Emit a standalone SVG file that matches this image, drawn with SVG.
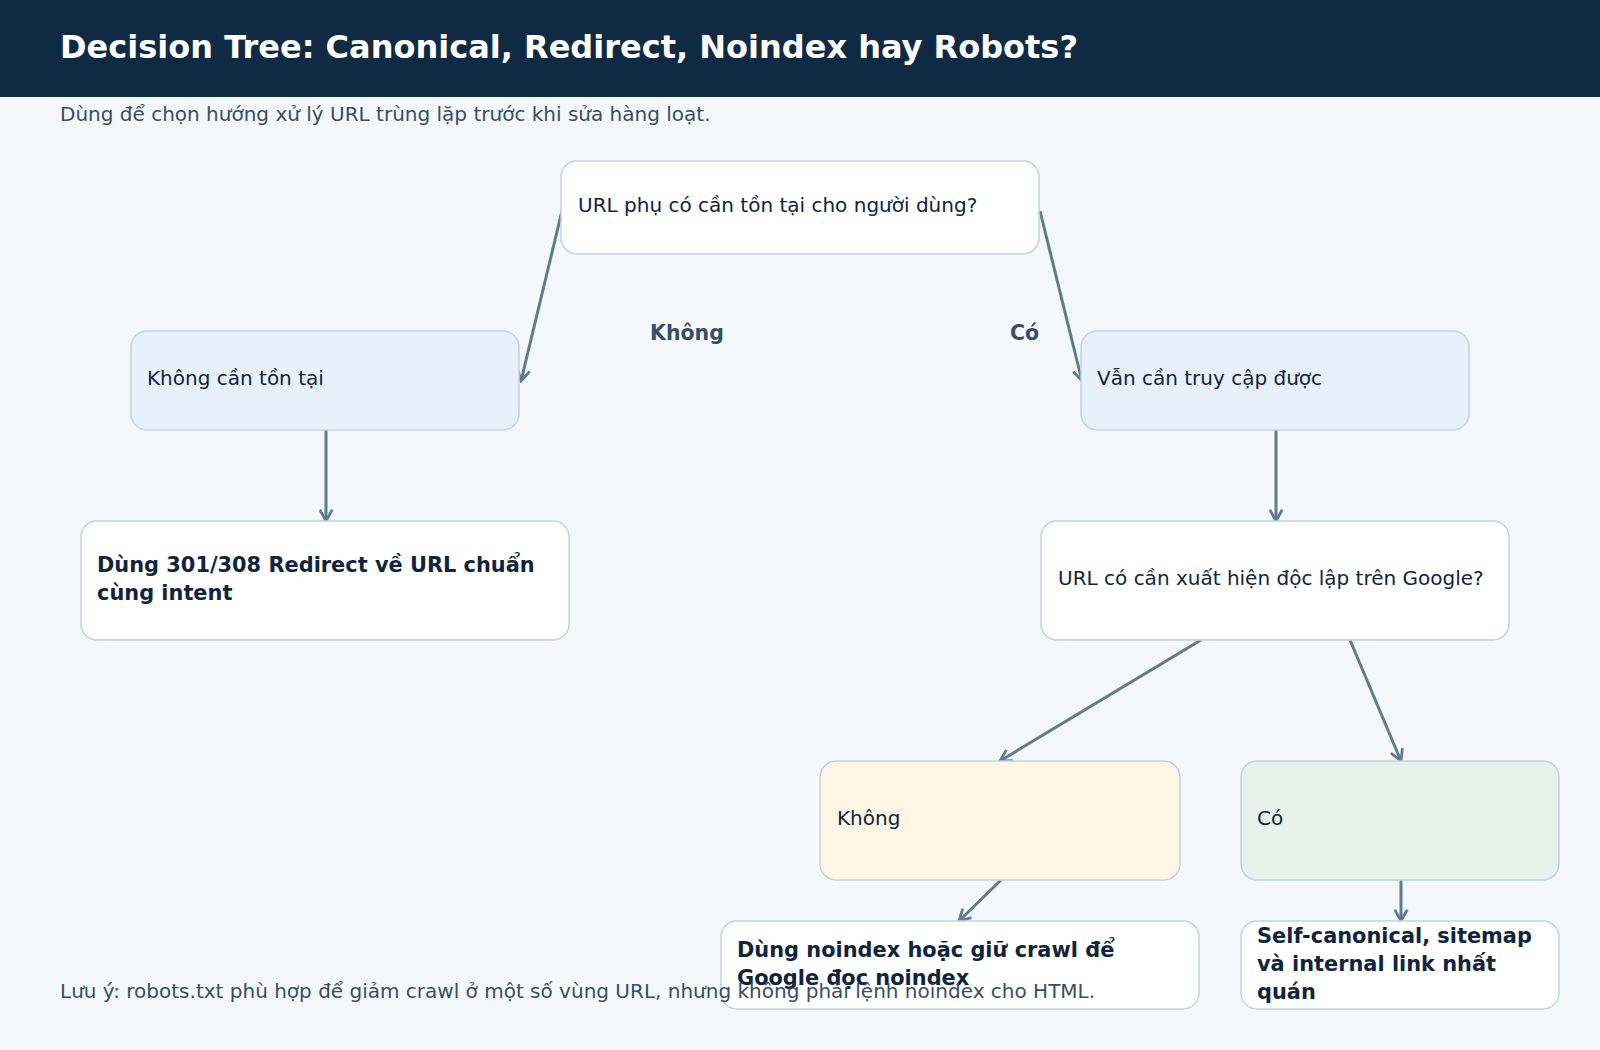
<svg xmlns="http://www.w3.org/2000/svg" width="1600" height="1050" viewBox="0 0 1600 1050">
<style>
text{font-family:"DejaVu Sans","Noto Sans",sans-serif;fill:#10243d}
.n{stroke:#c3d1e3;stroke-width:1.5}
.t{font-size:20px}
.b{font-size:20.9px;font-weight:bold}
.c{stroke:#64798f;stroke-width:3;fill:none;marker-end:url(#a)}
.l{font-size:20.5px;font-weight:bold;fill:#3a4d66}
</style>
<defs><marker id="a" viewBox="0 0 12 12" refX="10" refY="6" markerWidth="15" markerHeight="15" orient="auto" markerUnits="userSpaceOnUse"><path d="M1,1 L10,6 L1,11" fill="none" stroke="#64798f" stroke-width="2.2"/></marker></defs>
<rect width="1600" height="1050" fill="#f4f8fb"/>
<rect width="1600" height="97" fill="#112a44"/>
<text x="60" y="58" style="font-size:32px;font-weight:bold;fill:#fff">Decision Tree: Canonical, Redirect, Noindex hay Robots?</text>
<text x="60" y="121" style="font-size:20px;fill:#3a4d66">Dùng để chọn hướng xử lý URL trùng lặp trước khi sửa hàng loạt.</text>
<g id="connectors">
<line class="c" x1="562" y1="211" x2="521" y2="381"/>
<line class="c" x1="1040" y1="211" x2="1082" y2="381"/>
<line class="c" x1="326" y1="430" x2="326" y2="521"/>
<line class="c" x1="1276" y1="430" x2="1276" y2="521"/>
<line class="c" x1="1201" y1="640" x2="1000" y2="761"/>
<line class="c" x1="1350" y1="640" x2="1401" y2="761"/>
<line class="c" x1="1001" y1="880" x2="959" y2="921"/>
<line class="c" x1="1401" y1="880" x2="1401" y2="921"/>
<text class="l" x="650" y="340">Không</text>
<text class="l" x="1010" y="340">Có</text>
</g>
<g id="root"><rect class="n" x="561" y="161" width="478" height="93" rx="16" fill="#fff"/><text class="t" x="578" y="212">URL phụ có cần tồn tại cho người dùng?</text></g>
<g id="left1"><rect class="n" x="131" y="331" width="388" height="99" rx="16" fill="#e8f0fc"/><text class="t" x="147" y="385">Không cần tồn tại</text></g>
<g id="right1"><rect class="n" x="1081" y="331" width="388" height="99" rx="16" fill="#e8f0fc"/><text class="t" x="1097" y="385">Vẫn cần truy cập được</text></g>
<g id="left2"><rect class="n" x="81" y="521" width="488" height="119" rx="16" fill="#fff"/><text class="b" x="97" y="572">Dùng 301/308 Redirect về URL chuẩn</text><text class="b" x="97" y="600">cùng intent</text></g>
<g id="right2"><rect class="n" x="1041" y="521" width="468" height="119" rx="16" fill="#fff"/><text class="t" x="1058" y="585">URL có cần xuất hiện độc lập trên Google?</text></g>
<g id="khong"><rect class="n" x="820" y="761" width="360" height="119" rx="16" fill="#fdf6e5"/><text class="t" x="837" y="825">Không</text></g>
<g id="co"><rect class="n" x="1241" y="761" width="318" height="119" rx="16" fill="#e6f2ea"/><text class="t" x="1257" y="825">Có</text></g>
<g id="noindex"><rect class="n" x="721" y="921" width="478" height="88" rx="16" fill="#fff"/><text class="b" x="737" y="957">Dùng noindex hoặc giữ crawl để</text><text class="b" x="737" y="985">Google đọc noindex</text></g>
<g id="selfcanon"><rect class="n" x="1241" y="921" width="318" height="88" rx="16" fill="#fff"/><text class="b" x="1257" y="943">Self-canonical, sitemap</text><text class="b" x="1257" y="971">và internal link nhất</text><text class="b" x="1257" y="999">quán</text></g>
<text x="60" y="998" style="font-size:20px;fill:#3a4d66">Lưu ý: robots.txt phù hợp để giảm crawl ở một số vùng URL, nhưng không phải lệnh noindex cho HTML.</text>
</svg>
